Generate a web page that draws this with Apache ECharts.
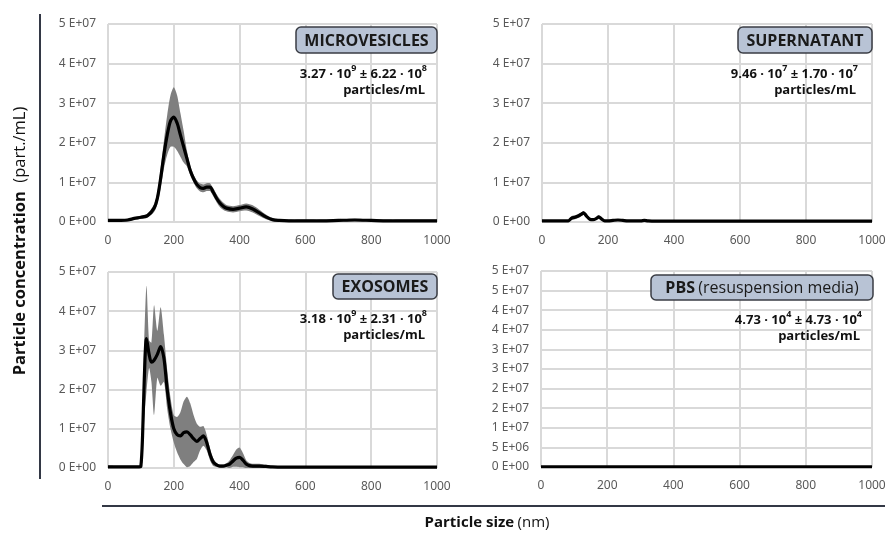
<!DOCTYPE html>
<html>
<head>
<meta charset="utf-8">
<script src="https://cdn.jsdelivr.net/npm/echarts@6/dist/echarts.min.js"></script>
<style>
  html, body { margin: 0; padding: 0; background: #fff; }
  #chart { width: 889px; height: 534px; }
</style>
</head>
<body>
<div id="chart"></div>
<script>
// particle size (nm) and concentration in millions of particles/mL (mean and SD)
const mvSize = [0, 20, 40, 60, 80, 100, 120, 140, 150, 160, 170, 180, 190, 200, 210, 220, 230, 240, 250, 260, 270, 280, 290, 300, 310, 320, 330, 340, 350, 360, 380, 400, 420, 440, 460, 480, 500, 520, 550, 600, 650, 700, 750, 800, 850, 900, 950, 1000]
const mvMean = [0.4, 0.4, 0.4, 0.5, 0.9, 1.2, 1.6, 3.5, 6, 11, 17, 22, 25.5, 26.5, 25, 22, 19, 16, 13, 11, 9.5, 8.7, 8.5, 8.8, 8.8, 7.5, 6, 4.8, 4, 3.5, 3.2, 3.5, 3.8, 3.3, 2.3, 1.3, 0.6, 0.4, 0.3, 0.3, 0.3, 0.4, 0.5, 0.4, 0.3, 0.3, 0.3, 0.3]
const mvSd = [0.3, 0.3, 0.3, 0.3, 0.3, 0.4, 0.5, 1, 1.5, 2.5, 3.5, 5, 6.5, 7.5, 7, 5.5, 4, 2, 1.2, 1, 1, 1, 1, 1, 1, 1, 1, 1, 0.9, 0.8, 0.8, 0.8, 0.9, 0.9, 0.8, 0.6, 0.4, 0.3, 0.3, 0.3, 0.3, 0.3, 0.3, 0.3, 0.3, 0.3, 0.3, 0.3]

const supSize = [0, 20, 40, 60, 80, 90, 100, 110, 120, 126, 135, 145, 155, 165, 172, 180, 190, 200, 215, 230, 245, 260, 280, 300, 310, 320, 340, 400, 500, 600, 700, 800, 900, 1000]
const supMean = [0.3, 0.3, 0.3, 0.3, 0.3, 1, 1.2, 1.5, 2, 2.3, 1.5, 0.7, 0.6, 0.9, 1.3, 0.8, 0.3, 0.3, 0.4, 0.5, 0.4, 0.3, 0.3, 0.3, 0.4, 0.3, 0.2, 0.2, 0.2, 0.2, 0.2, 0.2, 0.2, 0.2]
const supSd = [0.2, 0.2, 0.2, 0.2, 0.2, 0.5, 0.5, 0.5, 0.5, 0.5, 0.5, 0.3, 0.3, 0.3, 0.4, 0.3, 0.2, 0.2, 0.2, 0.2, 0.2, 0.2, 0.2, 0.2, 0.2, 0.2, 0.2, 0.2, 0.2, 0.2, 0.2, 0.2, 0.2, 0.2]

const exoSize = [0, 20, 40, 60, 80, 95, 100, 105, 110, 117, 125, 132, 140, 150, 160, 170, 180, 190, 200, 210, 220, 230, 240, 250, 260, 270, 280, 290, 300, 310, 320, 330, 340, 350, 360, 370, 380, 390, 400, 410, 420, 430, 440, 460, 480, 500, 550, 600, 700, 800, 900, 1000]
const exoMean = [0.3, 0.3, 0.3, 0.3, 0.3, 0.3, 0.5, 8, 22, 33, 29, 27, 27.5, 29, 31, 28, 20, 14, 10, 8.5, 8.2, 9, 9.2, 8.5, 7.5, 6.8, 7.5, 8.2, 6.5, 3.5, 1.5, 0.8, 0.5, 0.5, 0.7, 1, 1.8, 2.5, 2.7, 2, 1, 0.6, 0.5, 0.5, 0.4, 0.3, 0.2, 0.2, 0.2, 0.2, 0.2, 0.2]
const exoSd = [0.3, 0.3, 0.3, 0.3, 0.3, 0.3, 0.5, 6, 10, 13.5, 3.5, 5, 14, 6, 10, 6, 5, 4, 3.5, 4.5, 6, 8, 9, 8, 6, 4.5, 3, 2.5, 2, 1.5, 1, 0.5, 0.4, 0.4, 0.5, 1, 1.5, 2.2, 2.5, 1.8, 1, 0.7, 0.6, 0.6, 0.4, 0.2, 0.2, 0.2, 0.2, 0.2, 0.2, 0.2]

const pbsSize = [0, 200, 400, 600, 800, 1000]
const pbsMean = [0.05, 0.05, 0.05, 0.05, 0.05, 0.05]
const pbsSd = [0.05, 0.05, 0.05, 0.05, 0.05, 0.05]

const panelNames = ['MICROVESICLES', 'SUPERNATANT', 'EXOSOMES', 'PBS']
const yIntervals = [10, 10, 10, 5]

const chart = echarts.init(document.getElementById('chart'))

// Excel style "5 E+07"
function sciLabel (millions) {
  const v = Math.round(millions * 1e6)
  if (v === 0) return '0 E+00'
  const parts = v.toExponential(0).split('e')
  let exp = parseInt(parts[1], 10)
  const sign = exp < 0 ? '-' : '+'
  exp = Math.abs(exp)
  return parts[0] + ' E' + sign + (exp < 10 ? '0' + exp : exp)
}

const grids = [
  { left: 108, top: 24, width: 329, height: 198 },
  { left: 542, top: 24, width: 330, height: 198 },
  { left: 108, top: 272, width: 329, height: 196 },
  { left: 541, top: 271, width: 331, height: 196 }
]

const gridLine = { lineStyle: { color: '#d9d9d9', width: 2 } }
const tickFont = { color: '#595959', fontSize: 12, fontFamily: 'Noto Sans' }

const xAxes = grids.map((g, i) => ({
  type: 'value',
  gridIndex: i,
  min: 0,
  max: 1000,
  interval: 200,
  axisLine: { show: false },
  axisTick: { show: false },
  splitLine: { show: true, showMinLine: true, showMaxLine: true, ...gridLine },
  axisLabel: { ...tickFont, margin: 13, formatter: v => String(v) }
}))

const yAxes = grids.map((g, i) => ({
  type: 'value',
  gridIndex: i,
  min: 0,
  max: 50,
  interval: yIntervals[i],
  axisLine: { show: false },
  axisTick: { show: false },
  splitLine: { show: true, showMinLine: true, showMaxLine: true, ...gridLine },
  axisLabel: { ...tickFont, margin: 12, formatter: sciLabel }
}))

// grey band = mean ± SD, drawn as one smoothed polygon through the axes' scales
function renderBand (params, api) {
  if (params.dataIndexInside !== 0) return null
  const n = params.dataInsideLength
  const upper = []
  const lower = []
  for (let k = 0; k < n; k++) {
    const x = api.value(0, k)
    upper.push(api.coord([x, api.value(2, k)]))
    lower.push(api.coord([x, api.value(1, k)]))
  }
  return {
    type: 'polygon',
    shape: { points: upper.concat(lower.reverse()), smooth: 0.25 },
    style: { fill: '#7f7f7f' }
  }
}

function panelSeries (i, sizes, mean, sd) {
  return [
    {
      type: 'custom',
      name: panelNames[i] + ' SD',
      xAxisIndex: i,
      yAxisIndex: i,
      silent: true,
      clip: true,
      encode: { x: 0, y: [1, 2] },
      data: sizes.map((x, k) => [x, Math.max(0, mean[k] - sd[k]), mean[k] + sd[k]]),
      renderItem: renderBand
    },
    {
      type: 'line',
      name: panelNames[i],
      xAxisIndex: i,
      yAxisIndex: i,
      symbol: 'none',
      smooth: 0.3,
      silent: true,
      z: 3,
      data: sizes.map((x, k) => [x, mean[k]]),
      lineStyle: { color: '#000', width: 3.2 }
    }
  ]
}

const series = [
  ...panelSeries(0, mvSize, mvMean, mvSd),
  ...panelSeries(1, supSize, supMean, supSd),
  ...panelSeries(2, exoSize, exoMean, exoSd),
  ...panelSeries(3, pbsSize, pbsMean, pbsSd)
]

// name boxes
function nameBox (x, y, w, h, text) {
  return [
    {
      type: 'rect',
      z: 100,
      shape: { x: x, y: y, width: w, height: h, r: 5 },
      style: { fill: '#b8c3d5', stroke: '#3a3d44', lineWidth: 1.5 }
    },
    {
      type: 'text',
      z: 101,
      x: x + w / 2,
      y: y + h / 2 + 1,
      style: {
        text: text,
        align: 'center',
        verticalAlign: 'middle',
        rich: {
          b: { fontFamily: 'Open Sans', fontWeight: 'bold', fontSize: 16, fill: '#1a1a1a' },
          n: { fontFamily: 'Open Sans', fontSize: 16, fill: '#1a1a1a' }
        }
      }
    }
  ]
}

const statRich = {
  b: { fontFamily: 'Open Sans', fontWeight: 'bold', fontSize: 13, fill: '#111', lineHeight: 17, verticalAlign: 'bottom' },
  s: { fontFamily: 'Open Sans', fontWeight: 'bold', fontSize: 9, fill: '#111', lineHeight: 17, verticalAlign: 'top' }
}

function stat (right, y, m1, e1, m2, e2) {
  return [
    {
      type: 'text',
      z: 100,
      x: right,
      y: y,
      style: {
        text: '{b|' + m1 + ' · 10}{s|' + e1 + '}{b| ± ' + m2 + ' · 10}{s|' + e2 + '}',
        align: 'right',
        verticalAlign: 'middle',
        rich: statRich
      }
    },
    {
      type: 'text',
      z: 100,
      x: right - 2,
      y: y + 18,
      style: {
        text: 'particles/mL',
        align: 'right',
        verticalAlign: 'middle',
        fontFamily: 'Open Sans',
        fontWeight: 'bold',
        fontSize: 13,
        fill: '#111'
      }
    }
  ]
}

const graphic = [
  ...nameBox(296, 27, 141, 26, '{b|MICROVESICLES}'),
  ...nameBox(738, 27, 134, 26, '{b|SUPERNATANT}'),
  ...nameBox(333, 274, 104, 25, '{b|EXOSOMES}'),
  ...nameBox(651, 275, 222, 25, '{b|PBS} {n|(resuspension media)}'),
  ...stat(427, 72, '3.27', '9', '6.22', '8'),
  ...stat(858, 72, '9.46', '7', '1.70', '7'),
  ...stat(427, 317, '3.18', '9', '2.31', '8'),
  ...stat(862, 318, '4.73', '4', '4.73', '4'),
  {
    type: 'line',
    shape: { x1: 40, y1: 14, x2: 40, y2: 479 },
    style: { stroke: '#333845', lineWidth: 2 }
  },
  {
    type: 'line',
    shape: { x1: 102, y1: 506, x2: 885, y2: 506 },
    style: { stroke: '#333845', lineWidth: 2 }
  },
  {
    type: 'text',
    x: 20,
    y: 241,
    rotation: Math.PI / 2,
    style: {
      text: '{b|Particle concentration}{n|  (part./mL)}',
      align: 'center',
      verticalAlign: 'middle',
      rich: {
        b: { fontFamily: 'Open Sans', fontWeight: 'bold', fontSize: 16.5, fill: '#111' },
        n: { fontFamily: 'Open Sans', fontSize: 16.5, fill: '#111' }
      }
    }
  },
  {
    type: 'text',
    x: 487,
    y: 523,
    style: {
      text: '{b|Particle size} {n|(nm)}',
      align: 'center',
      verticalAlign: 'middle',
      rich: {
        b: { fontFamily: 'Open Sans', fontWeight: 'bold', fontSize: 15, fill: '#111' },
        n: { fontFamily: 'Open Sans', fontSize: 15, fill: '#111' }
      }
    }
  }
]

chart.setOption({
  animation: false,
  backgroundColor: '#fff',
  grid: grids,
  xAxis: xAxes,
  yAxis: yAxes,
  series: series,
  graphic: graphic
})
</script>
</body>
</html>
